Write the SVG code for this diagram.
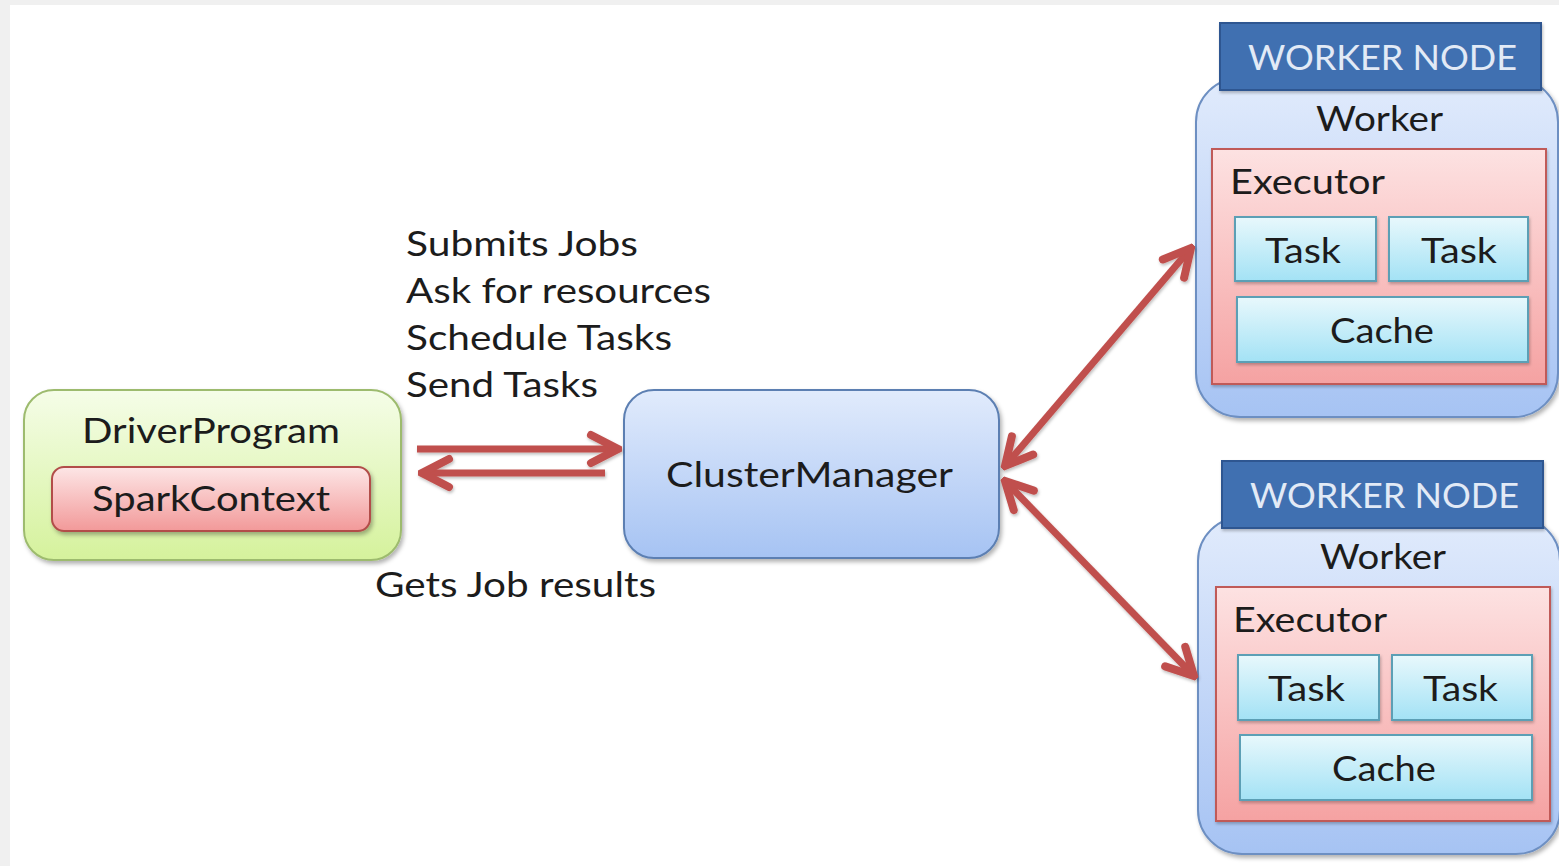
<svg xmlns="http://www.w3.org/2000/svg" width="1559" height="866" viewBox="0 0 1559 866">
  <defs>
    <linearGradient id="gGreen" x1="0" y1="0" x2="0" y2="1">
      <stop offset="0" stop-color="#f5fde8"/>
      <stop offset="1" stop-color="#d5f29c"/>
    </linearGradient>
    <linearGradient id="gRed" x1="0" y1="0" x2="0" y2="1">
      <stop offset="0" stop-color="#fde6e6"/>
      <stop offset="1" stop-color="#f29999"/>
    </linearGradient>
    <linearGradient id="gBlue" x1="0" y1="0" x2="0" y2="1">
      <stop offset="0" stop-color="#e1ebfc"/>
      <stop offset="1" stop-color="#a6c3f3"/>
    </linearGradient>
    <linearGradient id="gExec" x1="0" y1="0" x2="0" y2="1">
      <stop offset="0" stop-color="#fde2e2"/>
      <stop offset="1" stop-color="#f5a2a2"/>
    </linearGradient>
    <linearGradient id="gCyan" x1="0" y1="0" x2="0" y2="1">
      <stop offset="0" stop-color="#e8f8fc"/>
      <stop offset="1" stop-color="#a3e2f5"/>
    </linearGradient>
    <filter id="shadow" x="-10%" y="-10%" width="130%" height="130%">
      <feDropShadow dx="2" dy="3" stdDeviation="2" flood-color="#000" flood-opacity="0.3"/>
    </filter>
    <filter id="glow" x="-10%" y="-10%" width="120%" height="120%">
      <feDropShadow dx="1" dy="2" stdDeviation="1.5" flood-color="#000" flood-opacity="0.25"/>
    </filter>
    <marker id="head" markerUnits="userSpaceOnUse" viewBox="-34 -20 38 40" refX="0" refY="0" markerWidth="38" markerHeight="40" orient="auto-start-reverse">
      <path d="M -27 -14 L 0 0 L -27 14" fill="none" stroke="#c0504d" stroke-width="8" stroke-linecap="round" stroke-linejoin="miter"/>
    </marker>
  </defs>
  <style>
    text { font-family: "Lato", "Liberation Sans", sans-serif; font-size: 35px; fill: #1c1c1c; }
    .hdr { fill: #e2eaf6; }
    .box-driver { fill: url(#gGreen); stroke: #9dbb6e; stroke-width: 2; }
    .box-spark { fill: url(#gRed); stroke: #b24e4a; stroke-width: 2; }
    .box-cm { fill: url(#gBlue); stroke: #5c7fb2; stroke-width: 2; }
    .box-worker { fill: url(#gBlue); stroke: #6d8fc2; stroke-width: 2; }
    .box-head { fill: #3f6fb1; stroke: #2d5791; stroke-width: 2; }
    .box-exec { fill: url(#gExec); stroke: #c05a58; stroke-width: 2; }
    .box-task { fill: url(#gCyan); stroke: #5b9fb5; stroke-width: 2; }
    .link { fill: none; stroke: #c0504d; stroke-width: 7; }
  </style>

  <!-- page background -->
  <rect x="0" y="0" width="1559" height="866" fill="#f0f0f0"/>
  <rect x="10" y="5" width="1549" height="861" fill="#ffffff"/>

  <!-- driver -->
  <g id="driver-program">
    <rect class="box-driver" x="24" y="390" width="377" height="170" rx="30" filter="url(#shadow)"/>
    <text x="82" y="443" textLength="258" lengthAdjust="spacingAndGlyphs">DriverProgram</text>
    <g id="spark-context">
      <rect class="box-spark" x="52" y="467" width="318" height="64" rx="12" filter="url(#shadow)"/>
      <text x="92" y="511" textLength="238" lengthAdjust="spacingAndGlyphs">SparkContext</text>
    </g>
  </g>

  <!-- cluster manager -->
  <g id="cluster-manager">
    <rect class="box-cm" x="624" y="390" width="375" height="168" rx="30" filter="url(#shadow)"/>
    <text x="666" y="487" textLength="287" lengthAdjust="spacingAndGlyphs">ClusterManager</text>
  </g>

  <!-- worker node 1 -->
  <g id="worker-node-1">
    <rect class="box-worker" x="1196" y="78" width="362" height="339" rx="44" filter="url(#shadow)"/>
    <rect class="box-head" x="1220" y="23" width="321" height="67" filter="url(#glow)"/>
    <text class="hdr" x="1248" y="70" textLength="269" lengthAdjust="spacingAndGlyphs">WORKER NODE</text>
    <text x="1316" y="131" textLength="127" lengthAdjust="spacingAndGlyphs">Worker</text>
    <g id="executor-1">
      <rect class="box-exec" x="1212" y="149" width="334" height="235" filter="url(#glow)"/>
      <text x="1230" y="194" textLength="155" lengthAdjust="spacingAndGlyphs">Executor</text>
      <rect class="box-task" x="1235" y="217" width="141" height="64" filter="url(#glow)"/>
      <text x="1265" y="263" textLength="76" lengthAdjust="spacingAndGlyphs">Task</text>
      <rect class="box-task" x="1389" y="217" width="139" height="64" filter="url(#glow)"/>
      <text x="1421" y="263" textLength="76" lengthAdjust="spacingAndGlyphs">Task</text>
      <rect class="box-task" x="1237" y="297" width="291" height="65" filter="url(#glow)"/>
      <text x="1330" y="343" textLength="104" lengthAdjust="spacingAndGlyphs">Cache</text>
    </g>
  </g>

  <!-- worker node 2 -->
  <g id="worker-node-2">
    <rect class="box-worker" x="1198" y="517" width="362" height="337" rx="44" filter="url(#shadow)"/>
    <rect class="box-head" x="1222" y="461" width="321" height="67" filter="url(#glow)"/>
    <text class="hdr" x="1250" y="508" textLength="269" lengthAdjust="spacingAndGlyphs">WORKER NODE</text>
    <text x="1320" y="569" textLength="126" lengthAdjust="spacingAndGlyphs">Worker</text>
    <g id="executor-2">
      <rect class="box-exec" x="1216" y="587" width="334" height="234" filter="url(#glow)"/>
      <text x="1233" y="632" textLength="154" lengthAdjust="spacingAndGlyphs">Executor</text>
      <rect class="box-task" x="1238" y="655" width="141" height="65" filter="url(#glow)"/>
      <text x="1268" y="701" textLength="77" lengthAdjust="spacingAndGlyphs">Task</text>
      <rect class="box-task" x="1392" y="655" width="140" height="65" filter="url(#glow)"/>
      <text x="1423" y="701" textLength="75" lengthAdjust="spacingAndGlyphs">Task</text>
      <rect class="box-task" x="1240" y="735" width="292" height="65" filter="url(#glow)"/>
      <text x="1332" y="781" textLength="104" lengthAdjust="spacingAndGlyphs">Cache</text>
    </g>
  </g>

  <!-- connectors -->
  <g id="connectors" filter="url(#glow)">
    <line class="link" x1="417" y1="449" x2="618" y2="449" marker-end="url(#head)"/>
    <line class="link" x1="605" y1="473" x2="422" y2="473" marker-end="url(#head)"/>
    <line class="link" x1="1005" y1="466" x2="1191" y2="248" marker-start="url(#head)" marker-end="url(#head)"/>
    <line class="link" x1="1005" y1="481" x2="1194" y2="676" marker-start="url(#head)" marker-end="url(#head)"/>
  </g>

  <!-- connector labels -->
  <g id="labels">
    <text x="406" y="256" textLength="232" lengthAdjust="spacingAndGlyphs">Submits Jobs</text>
    <text x="406" y="303" textLength="305" lengthAdjust="spacingAndGlyphs">Ask for resources</text>
    <text x="406" y="350" textLength="266" lengthAdjust="spacingAndGlyphs">Schedule Tasks</text>
    <text x="406" y="397" textLength="192" lengthAdjust="spacingAndGlyphs">Send Tasks</text>
    <text x="375" y="597" textLength="281" lengthAdjust="spacingAndGlyphs">Gets Job results</text>
  </g>
</svg>
